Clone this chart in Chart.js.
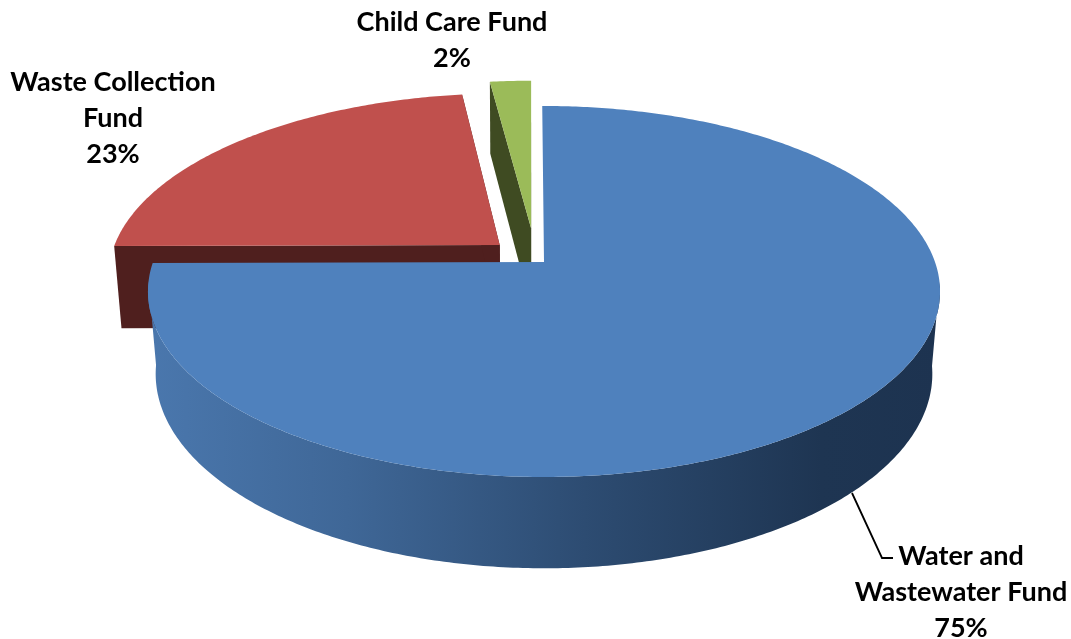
<!DOCTYPE html>
<html>
<head>
<meta charset="utf-8">
<title>Fund shares</title>
<script src="https://cdn.jsdelivr.net/npm/chart.js@4/dist/chart.umd.min.js"></script>
<style>
    html, body { margin: 0; padding: 0; background: #fff; }
    #pie { display: block; }
</style>
</head>
<body>
<canvas id="pie" width="1071" height="639"></canvas>
<script>
// Fund shares, clockwise from twelve o'clock
const categories = [
    ['Water and', 'Wastewater Fund'],
    ['Waste Collection', 'Fund'],
    ['Child Care Fund']
];
const shares = [75, 23, 2];

const topColors = ['#4f81bd', '#c0504d', '#9bbb59'];
const wallColors = ['#2b4a70', '#4f1f1e', '#3f4b22'];

// Exploded slices move across the pie plane, in radius units (right, back)
const sliceShift = [[0, 0], [-0.115, 0.095], [-0.034, 0.193]];

// Label text: centre x and first baseline
const labelSpots = [[961, 565], [113, 91], [452, 31]];
const lineGap = 36;

// Upper and lower faces of the pie seen in perspective
const topFace = { x: 544, y: 262, b: 391, a: 180.8, k: 0.159 };
const lowFace = { x: 544, y: 345, b: 384, a: 190, k: 0.149 };

function project(face, u, v) {
    const d = 1 + face.k * v;
    return [face.x + face.b * u / d, face.y - face.a * v / d];
}

// Slice angle steps, angles as Chart.js gives them (0 = 3 o'clock)
function sliceAngles(start, end) {
    const list = [];
    const steps = Math.max(4, Math.ceil((end - start) * 90));
    for (let i = 0; i <= steps; i++) {
        list.push(start + (end - start) * i / steps + Math.PI / 2);
    }
    return list;
}

function rimPoint(face, t, shift) {
    return project(face, Math.sin(t) + shift[0], Math.cos(t) + shift[1]);
}

function tracePoly(ctx, pts) {
    pts.forEach((p, i) => i ? ctx.lineTo(p[0], p[1]) : ctx.moveTo(p[0], p[1]));
    ctx.closePath();
}

function fillPoly(ctx, pts, fill) {
    ctx.beginPath();
    tracePoly(ctx, pts);
    ctx.fillStyle = fill;
    ctx.fill();
}

function drawSlice(ctx, arc, i) {
    const shift = sliceShift[i];
    const angles = sliceAngles(arc.startAngle, arc.endAngle);
    const first = angles[0];
    const last = angles[angles.length - 1];
    const topTip = project(topFace, shift[0], shift[1]);
    const lowTip = project(lowFace, shift[0], shift[1]);

    // Cut walls, the big slice's cuts face away
    if (i > 0) {
        fillPoly(ctx, [topTip, rimPoint(topFace, first, shift), rimPoint(lowFace, first, shift), lowTip], wallColors[i]);
        fillPoly(ctx, [topTip, rimPoint(topFace, last, shift), rimPoint(lowFace, last, shift), lowTip], wallColors[i]);
    }

    // Outer wall, only the big slice catches the light across its front
    let wallFill = wallColors[i];
    if (i === 0) {
        wallFill = ctx.createLinearGradient(150, 0, 940, 0);
        wallFill.addColorStop(0, '#4a77ad');
        wallFill.addColorStop(0.25, '#3f6797');
        wallFill.addColorStop(0.55, '#2d4c72');
        wallFill.addColorStop(0.85, '#1e3552');
        wallFill.addColorStop(1, '#1d3350');
    }
    // All strips go into one path so no seams show between them
    ctx.beginPath();
    for (let n = 0; n < angles.length - 1; n++) {
        const a = angles[n];
        const b = angles[n + 1];
        // Rim behind the widest point stays hidden behind the top face
        if (Math.cos(a) > -0.1 || Math.cos(b) > -0.1) continue;
        tracePoly(ctx, [
            rimPoint(topFace, a, shift), rimPoint(topFace, b, shift),
            rimPoint(lowFace, b, shift), rimPoint(lowFace, a, shift)
        ]);
    }
    ctx.fillStyle = wallFill;
    ctx.fill();

    // Top face
    const topRim = angles.map(t => rimPoint(topFace, t, shift));
    fillPoly(ctx, [topTip].concat(topRim), arc.options.backgroundColor);
}

const pie3d = {
    id: 'pie3d',
    beforeDatasetDraw(chart, args) {
        const ctx = chart.ctx;
        const arcs = chart.getDatasetMeta(args.index).data;
        // Back slices first so the big one sits in front
        [2, 1, 0].forEach(i => drawSlice(ctx, arcs[i], i));
        return false;
    },
    afterDatasetsDraw(chart) {
        const ctx = chart.ctx;

        // Leader line for the big slice
        ctx.beginPath();
        ctx.moveTo(852, 493);
        ctx.lineTo(882, 558);
        ctx.lineTo(893, 558);
        ctx.strokeStyle = '#000';
        ctx.lineWidth = 1.8;
        ctx.stroke();

        ctx.fillStyle = '#000';
        ctx.font = 'bold 27px Lato';
        ctx.textAlign = 'center';
        ctx.textBaseline = 'alphabetic';
        categories.forEach((lines, i) => {
            const spot = labelSpots[i];
            lines.concat(shares[i] + '%').forEach((line, n) => {
                ctx.fillText(line, spot[0], spot[1] + n * lineGap);
            });
        });
    }
};

new Chart(document.getElementById('pie'), {
    type: 'pie',
    data: {
        labels: categories,
        datasets: [{
            data: shares,
            backgroundColor: topColors,
            borderWidth: 0
        }]
    },
    options: {
        responsive: false,
        animation: false,
        rotation: -0.3,
        events: [],
        plugins: {
            legend: { display: false },
            tooltip: { enabled: false }
        }
    },
    plugins: [pie3d]
});
</script>
</body>
</html>
